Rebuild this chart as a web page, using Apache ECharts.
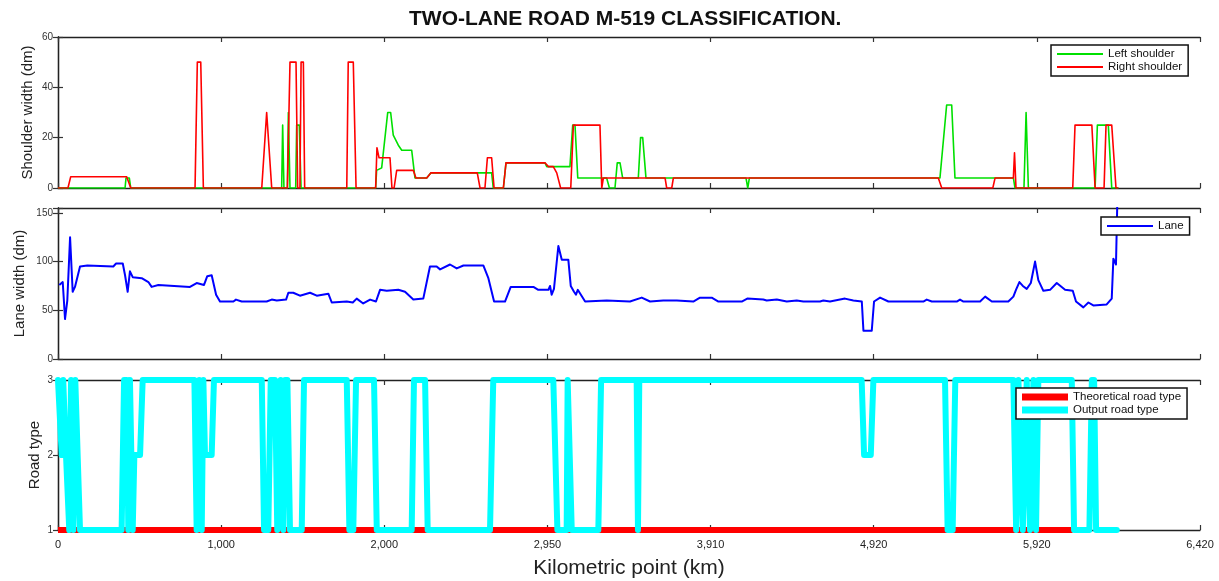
<!DOCTYPE html>
<html>
<head>
<meta charset="utf-8">
<title>Two-lane road M-519 classification</title>
<script src="https://cdn.jsdelivr.net/npm/echarts@6.0.0/dist/echarts.min.js"></script>
<style>
html, body { margin: 0; padding: 0; background: #fff; }
#main { width: 1219px; height: 581px; }
</style>
</head>
<body>
<div id="main"></div>
<script>
// tick labels of the kilometric axis (they sit at equal spacing on the plot)
var kmTickLabels = ['0', '1,000', '2,000', '2,950', '3,910', '4,920', '5,920', '6,420'];

// shoulder widths (dm), x in axis units (1000 per labelled tick)
var leftShoulder = [
  [0,0],[411,0],[417,4],[437,4],[446,0],
  [1371,0],[1377,25],[1385,0],
  [1406,0],[1412,30],[1422,0],
  [1457,0],[1463,25],[1479,25],[1490,0],
  [1947,0],[1953,7],[1984,8],[2021,30],[2039,30],[2055,21],[2086,17],[2107,15],[2168,15],[2188,4],
  [2260,4],[2285,6],[2658,6],[2668,0],[2730,0],[2746,10],[2985,10],[2996,8.5],[3138,8.5],[3155,25],[3169,25],[3186,4],
  [3363,4],[3380,0],[3414,0],[3428,10],[3445,10],[3461,4],[3557,4],[3571,20],[3584,20],[3604,4],
  [4217,4],[4228,0],[4238,4],
  [5406,4],[5447,33],[5478,33],[5498,4],[5856,4],[5866,0],[5921,0],[5934,30],[5948,0],
  [6357,0],[6371,25],[6438,25],[6459,0],[6500,0]
];
var rightShoulder = [
  [0,0],[61,0],[78,4.5],[421,4.5],[429,4.5],[446,0],
  [840,0],[854,50],[875,50],[891,0],
  [1249,0],[1279,30],[1310,0],
  [1406,0],[1422,50],[1459,50],[1469,0],
  [1483,0],[1490,50],[1504,50],[1512,0],
  [1770,0],[1779,50],[1810,50],[1827,0],
  [1947,0],[1955,16],[1968,12],[2035,12],[2047,0],[2060,0],[2076,7],[2178,7],[2194,4],
  [2260,4],[2285,6],[2570,6],[2587,0],[2617,0],[2632,12],[2658,12],[2673,0],[2730,0],[2746,10],[2985,10],
  [3006,8.5],[3036,8.5],[3057,6],[3081,0],[3143,0],[3159,25],[3322,25],[3333,0],[3343,4],
  [3721,4],[3731,0],[3762,0],[3772,4],
  [5396,4],[5417,0],[5730,0],[5744,4],[5856,4],[5863,14],[5872,0],
  [6220,0],[6234,25],[6337,25],[6357,0],[6412,0],[6424,25],[6459,25],[6485,0],[6500,0]
];

// lane width (dm)
var laneWidth = [
  [8,76],[29,79],[43,41],[57,60],[63,60],[74,125],[90,69],[104,74],[135,95],[180,96],[339,95],[356,98],[397,98],
  [411,86],[427,69],[441,90],[458,84],[513,83],[554,79],[574,74],[615,76],[625,74],[809,74],[850,78],[895,76],
  [915,85],[942,86],[969,66],[993,59],[1075,59],[1091,61],[1126,59],[1279,59],[1310,61],[1341,60],[1398,61],
  [1412,68],[1442,68],[1483,65],[1545,68],[1586,65],[1657,67],[1678,58],[1770,59],[1807,58],[1831,62],[1871,57],
  [1913,61],[1949,59],[1974,71],[2015,70],[2086,71],[2127,69],[2178,61],[2188,59],[2239,62],[2280,95],[2321,95],
  [2342,92],[2403,97],[2444,93],[2485,96],[2607,96],[2638,83],[2673,59],[2740,59],[2775,74],[2914,74],[2944,71],
  [3006,71],[3016,75],[3026,66],[3040,72],[3067,116],[3088,102],[3128,102],[3143,75],[3163,69],[3175,66],[3186,71],
  [3231,59],[3363,60],[3506,59],[3578,63],[3629,59],[3710,60],[3793,60],[3894,59],[3935,63],[4007,63],[4048,59],
  [4191,59],[4225,62],[4323,61],[4344,60],[4406,61],[4467,59],[4528,60],[4569,59],[4671,59],[4691,60],[4732,59],
  [4824,62],[4875,60],[4927,59],[4937,29],[4988,29],[5002,59],[5039,63],[5090,59],[5304,59],[5325,61],[5356,59],
  [5509,59],[5529,61],[5550,59],[5652,59],[5683,64],[5724,59],[5825,59],[5856,64],[5872,71],[5893,79],[5914,75],
  [5938,72],[5963,78],[5989,100],[6009,81],[6040,70],[6081,71],[6122,78],[6173,71],[6220,70],[6240,59],[6285,53],
  [6316,58],[6346,55],[6428,56],[6459,62],[6469,103],[6485,97],[6493,160]
];

// road type: theoretical vs classifier output
var theoreticalType = [[0,1],[6220,1]];
var outputType = [
  [0,3],[8,3],[23,2],[32,3],[49,2],[69,1],[80,3],[94,1],[106,3],[118,3],[135,1],
  [390,1],[405,3],[421,3],[431,1],[441,3],[458,1],[468,2],[503,2],[519,3],
  [836,3],[850,1],[866,3],[881,1],[891,3],[901,2],[942,2],[956,3],
  [1249,3],[1263,1],[1289,1],[1304,3],[1330,3],[1344,1],[1350,1],[1365,3],[1381,1],[1392,3],[1406,3],[1422,1],[1494,1],[1508,3],
  [1770,3],[1786,1],[1810,1],[1827,3],[1937,3],[1954,1],[2168,1],[2182,3],[2250,3],[2266,1],
  [2648,1],[2668,3],[3036,3],[3061,1],[3118,1],[3124,3],[3134,3],[3149,1],
  [3312,1],[3329,3],[3547,3],[3555,1],[3563,3],
  [4926,3],[4941,2],[4982,2],[4998,3],[5437,3],[5453,1],[5484,1],[5500,3],
  [5856,3],[5873,1],[5887,3],[5914,1],[5938,3],[5958,1],[5979,3],[5995,1],[6009,3],
  [6214,3],[6228,1],[6322,1],[6337,3],[6351,3],[6363,1],[6490,1]
];

var font = 'Liberation Sans, Arial, sans-serif';
var frame = '#222';

var grids = [
  { left: 58, right: 19, top: 37, height: 151 },
  { left: 58, right: 19, top: 208, height: 151 },
  { left: 58, right: 19, top: 380, height: 150 }
];

function kmAxis(gi, pos, labels) {
  var ax = {
    type: 'value', gridIndex: gi, position: pos,
    min: 0, max: 7000, interval: 1000,
    axisLine: { show: true, onZero: false, lineStyle: { color: frame, width: 1.3 } },
    axisTick: { show: true, inside: true, length: 5, lineStyle: { color: '#333', width: 1.2 } },
    axisLabel: {
      show: labels, margin: 9, fontSize: 11, color: '#222', fontFamily: font,
      formatter: function (v) { return kmTickLabels[Math.round(v / 1000)]; }
    },
    splitLine: { show: false }
  };
  if (labels) {
    ax.name = 'Kilometric point (km)';
    ax.nameLocation = 'middle';
    ax.nameGap = 28;
    ax.nameTextStyle = { fontSize: 21, color: '#222', fontFamily: font };
  }
  return ax;
}

function valAxis(gi, pos, min, max, step, name, gap) {
  var ax = {
    type: 'value', gridIndex: gi, position: pos,
    min: min, max: max, interval: step,
    axisLine: { show: true, lineStyle: { color: frame, width: 1.3 } },
    axisTick: { show: true, inside: true, length: 5, lineStyle: { color: '#333', width: 1.2 } },
    axisLabel: {
      show: pos === 'left', margin: 5, fontSize: 10, color: '#333', fontFamily: font,
      formatter: function (v) { return v % step === 0 ? String(v) : ''; }
    },
    splitLine: { show: false }
  };
  if (name) {
    ax.name = name;
    ax.nameLocation = 'middle';
    ax.nameGap = gap;
    ax.nameMoveOverlap = false;
    ax.nameTextStyle = { fontSize: 15, color: '#222', fontFamily: font };
  }
  return ax;
}

function legendBox(names, left, top, itemH) {
  return {
    data: names, orient: 'vertical', left: left, top: top,
    icon: 'rect', itemWidth: 46, itemHeight: itemH, itemGap: 1,
    padding: [3, 6, 3, 6],
    borderColor: '#111', borderWidth: 1.5, backgroundColor: '#fff',
    textStyle: { fontSize: 11.5, color: '#111', fontFamily: font },
    selectedMode: false
  };
}

var chart = echarts.init(document.getElementById('main'));
chart.setOption({
  animation: false,
  backgroundColor: '#fff',
  title: {
    text: 'TWO-LANE ROAD M-519 CLASSIFICATION.',
    left: 404, top: 4,
    textStyle: { fontSize: 21, fontWeight: 'bold', color: '#111', fontFamily: font }
  },
  grid: grids,
  xAxis: [
    kmAxis(0, 'bottom', false), kmAxis(0, 'top', false),
    kmAxis(1, 'bottom', false), kmAxis(1, 'top', false),
    kmAxis(2, 'bottom', true), kmAxis(2, 'top', false)
  ],
  yAxis: [
    valAxis(0, 'left', 0, 60, 20, 'Shoulder width (dm)', 23), valAxis(0, 'right', 0, 60, 20),
    valAxis(1, 'left', 0, 155, 50, 'Lane width (dm)', 31), valAxis(1, 'right', 0, 155, 50),
    valAxis(2, 'left', 1, 3, 1, 'Road type', 16), valAxis(2, 'right', 1, 3, 1)
  ],
  legend: [
    legendBox(['Left shoulder', 'Right shoulder'], 1051, 45, 2),
    legendBox(['Lane'], 1101, 217, 2),
    legendBox(['Theoretical road type', 'Output road type'], 1016, 388, 7)
  ],
  series: [
    {
      name: 'Left shoulder', type: 'line', xAxisIndex: 0, yAxisIndex: 0,
      data: leftShoulder, symbol: 'none', color: '#00e000',
      lineStyle: { width: 1.6, color: '#00e000', join: 'round' }
    },
    {
      name: 'Right shoulder', type: 'line', xAxisIndex: 0, yAxisIndex: 0,
      data: rightShoulder, symbol: 'none', color: '#ff0000',
      lineStyle: { width: 1.6, color: '#ff0000', join: 'round' }
    },
    {
      name: 'Lane', type: 'line', xAxisIndex: 2, yAxisIndex: 2,
      data: laneWidth, symbol: 'none', color: '#0000ff',
      lineStyle: { width: 2, color: '#0000ff', join: 'round' }
    },
    {
      name: 'Theoretical road type', type: 'line', xAxisIndex: 4, yAxisIndex: 4,
      data: theoreticalType, symbol: 'none', color: '#ff0000', clip: false,
      lineStyle: { width: 6, color: '#ff0000' }
    },
    {
      name: 'Output road type', type: 'line', xAxisIndex: 4, yAxisIndex: 4,
      data: outputType, symbol: 'none', color: '#00ffff', clip: false,
      lineStyle: { width: 6, color: '#00ffff', join: 'round', cap: 'round' }
    }
  ]
});
</script>
</body>
</html>
